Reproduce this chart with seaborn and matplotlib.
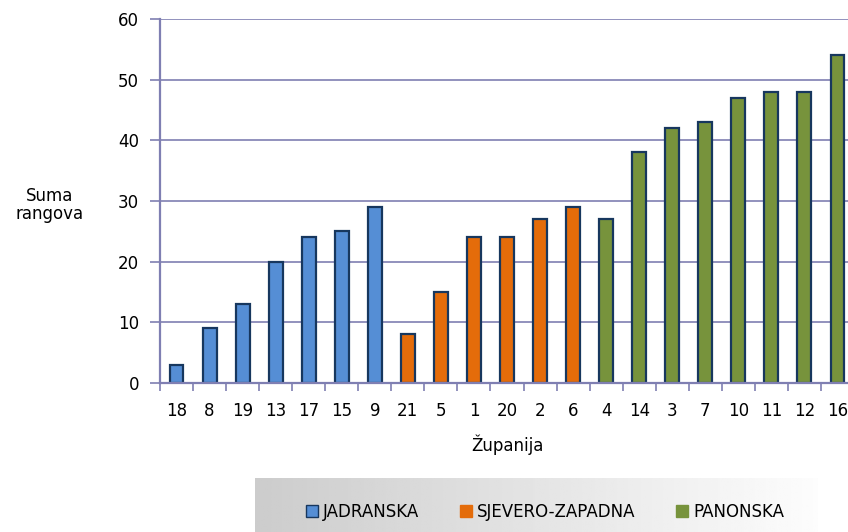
import numpy as np
import pandas as pd
import matplotlib
matplotlib.use("Agg")
import matplotlib.pyplot as plt
import seaborn as sns

# data
zupanije = ['18', '8', '19', '13', '17', '15', '9',
            '21', '5', '1', '20', '2', '6',
            '4', '14', '3', '7', '10', '11', '12', '16']
suma = [3, 9, 13, 20, 24, 25, 29,
        8, 15, 24, 24, 27, 29,
        27, 38, 42, 43, 47, 48, 48, 54]
regije = ['JADRANSKA'] * 7 + ['SJEVERO-ZAPADNA'] * 6 + ['PANONSKA'] * 8
regije_order = ['JADRANSKA', 'SJEVERO-ZAPADNA', 'PANONSKA']

df = pd.DataFrame({'zupanija': zupanije, 'suma': suma, 'regija': regije})

sns.set_theme(style="white")
plt.rcParams['font.family'] = ['DejaVu Sans']
plt.rcParams['text.color'] = 'black'

palette = {'JADRANSKA': '#558ED5', 'SJEVERO-ZAPADNA': '#E46C0A', 'PANONSKA': '#77933C'}
edge = '#17375E'
grid_col = '#7F7FB2'

fig = plt.figure(figsize=(8.48, 5.32), dpi=100)

# gradient legend band at the bottom
bg = fig.add_axes([255 / 848, 0, (818 - 255) / 848, (532 - 478) / 532])
grad = np.linspace(0.80, 0.99, 256).reshape(1, -1)
bg.imshow(grad, aspect='auto', cmap='gray', vmin=0, vmax=1, extent=[0, 1, 0, 1])
bg.set_axis_off()

ax = fig.add_axes([160 / 848, (532 - 383) / 532, 694 / 848, (383 - 19) / 532])
sns.barplot(data=df, x='zupanija', y='suma', hue='regija', order=zupanije,
            hue_order=regije_order, palette=palette, dodge=False, width=0.42,
            edgecolor=edge, linewidth=1.6, saturation=1, legend=False, ax=ax)

ax.set_xlim(-0.5, len(zupanije) - 0.5)
ax.set_ylim(0, 60)
ax.set_yticks(range(0, 61, 10))
ax.yaxis.grid(True, color=grid_col, linewidth=1.2)
ax.set_axisbelow(True)
for s in ['top', 'right']:
    ax.spines[s].set_visible(False)
for s in ['left', 'bottom']:
    ax.spines[s].set_color(grid_col)
    ax.spines[s].set_linewidth(1.6)

# ticks sit between categories, labels at the centres
ax.set_xticks(np.arange(len(zupanije)))
ax.set_xticklabels(zupanije)
ax.set_xticks(np.arange(len(zupanije) + 1) - 0.5, minor=True)
ax.tick_params(axis='x', which='major', length=0, labelsize=12, pad=14, labelcolor='black')
ax.tick_params(axis='x', which='minor', bottom=True, length=6, width=1.2, color=grid_col)
ax.tick_params(axis='y', left=True, length=7, width=1.2, color=grid_col,
               labelsize=12, pad=8, labelcolor='black')

ax.set_xlabel('Županija', fontsize=12, labelpad=10, color='black')
ax.set_ylabel('')
fig.text(50 / 848, 1 - 205 / 532, 'Suma\nrangova', ha='center', va='center',
         fontsize=12, linespacing=1.05, color='black')

handles = [plt.Rectangle((0, 0), 1, 1, facecolor=palette[r],
                         edgecolor=edge if r == 'JADRANSKA' else palette[r], linewidth=1)
           for r in regije_order]
leg = fig.legend(handles, regije_order, loc='center', bbox_to_anchor=(545 / 848, 1 - 512 / 532),
                 ncol=3, frameon=False, handlelength=0.75, handleheight=0.75,
                 handletextpad=0.3, columnspacing=2.4,
                 prop={'family': ['Liberation Sans Narrow', 'DejaVu Sans'], 'size': 12})
for t in leg.get_texts():
    t.set_color('black')

fig.savefig('out.png', dpi=100)
